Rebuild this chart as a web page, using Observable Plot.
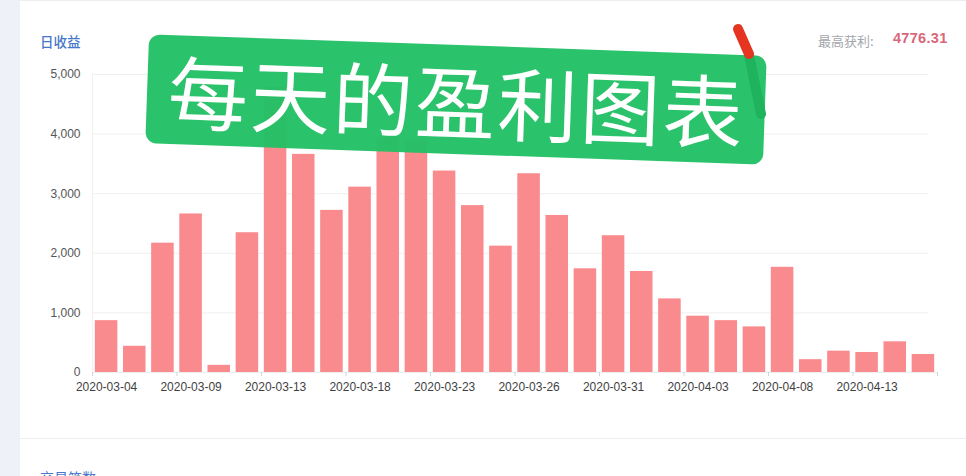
<!DOCTYPE html>
<html>
<head>
<meta charset="utf-8">
<script src="https://cdn.jsdelivr.net/npm/d3@7"></script>
<script src="https://cdn.jsdelivr.net/npm/@observablehq/plot@0.6"></script>
<style>
  html, body { margin: 0; padding: 0; background: #ffffff; }
  #page { position: relative; width: 966px; height: 476px; overflow: hidden; background: #ffffff;
          font-family: "Liberation Sans", "Noto Sans CJK SC", sans-serif; }
  #strip { position: absolute; left: 0; top: 0; width: 20px; height: 476px; background: #eef2f8; }
  #topline { position: absolute; left: 20px; right: 0; top: 0; height: 1px; background: #eceef2; }
  #chart { position: absolute; left: 0; top: 0; }
  #title { position: absolute; left: 40px; top: 31px; font-size: 13.5px; color: #4677c8; font-weight: 500;
           font-family: "Noto Sans CJK SC", sans-serif; }
  #maxlbl { position: absolute; left: 818px; top: 31px; font-size: 13px; color: #a3a6ad;
            font-family: "Noto Sans CJK SC", sans-serif; }
  #maxval { position: absolute; left: 893px; top: 30px; font-size: 14.5px; font-weight: bold; color: #d8677c;
            letter-spacing: 0.3px; }
  #divider { position: absolute; left: 20px; right: 0; top: 438px; height: 1px; background: #eceef1; }
  #sub { position: absolute; left: 40px; top: 467px; font-size: 14px; color: #4677c8;
         font-family: "Noto Sans CJK SC", sans-serif; }
  #banner { position: absolute; left: 147px; top: 45px; width: 618px; height: 109px; border-radius: 11px;
            background: rgba(34, 192, 101, 0.965); transform: rotate(2deg); transform-origin: center;
            color: #ffffff; font-family: "Noto Sans CJK SC", sans-serif; font-weight: 400;
            font-size: 80px; line-height: 106px; letter-spacing: 2.5px; white-space: nowrap;
            box-sizing: border-box; padding-left: 21px; }
  #marker { position: absolute; left: 0; top: 0; pointer-events: none; }
</style>
</head>
<body>
<div id="page">
  <div id="strip"></div>
  <div id="topline"></div>
  <div id="chart"></div>
  <div id="title">日收益</div>
  <div id="maxlbl">最高获利:</div>
  <div id="maxval">4776.31</div>
  <div id="divider"></div>
  <div id="sub">交易笔数</div>
  <div id="banner">每天的盈利图表</div>
  <svg id="marker" width="966" height="476">
    <path d="M749,55 L761,114" stroke="#1fb35d" stroke-width="10" stroke-linecap="round" fill="none"/>
    <path d="M738,29 L749,54" stroke="#e5341f" stroke-width="10" stroke-linecap="round" fill="none"/>
  </svg>
</div>
<script>
const dates = ["2020-03-04","2020-03-05","2020-03-06","2020-03-09","2020-03-10","2020-03-11",
  "2020-03-13","2020-03-16","2020-03-17","2020-03-18","2020-03-19","2020-03-20",
  "2020-03-23","2020-03-24","2020-03-25","2020-03-26","2020-03-27","2020-03-30",
  "2020-03-31","2020-04-01","2020-04-02","2020-04-03","2020-04-06","2020-04-07",
  "2020-04-08","2020-04-09","2020-04-10","2020-04-13","2020-04-14","2020-04-15"];
const profits = [870, 440, 2170, 2660, 120, 2345,
  4776.31, 3660, 2720, 3110, 3950, 3880,
  3380, 2800, 2120, 3335, 2635, 1740,
  2295, 1695, 1235, 945, 870, 765,
  1765, 215, 358, 336, 515, 302];
const yTicks = [0, 1000, 2000, 3000, 4000, 5000];
const xLabels = dates.filter((d, i) => i % 3 === 0);
const lastDate = [dates[dates.length - 1]];

const data = dates.map((d, i) => ({date: d, value: profits[i]}));
const halfStep = (966 - 92 - 29) / dates.length / 2;

const chart = Plot.plot({
  width: 966,
  height: 400,
  marginLeft: 92,
  marginRight: 29,
  marginTop: 74,
  marginBottom: 28,
  style: {fontFamily: "'Liberation Sans', 'Noto Sans CJK SC', sans-serif", fontSize: "12px", color: "#555", background: "transparent"},
  x: {domain: dates, paddingInner: 0.2, paddingOuter: 0.1, round: false, axis: null, label: null},
  y: {domain: [0, 5000], axis: null, label: null},
  marks: [
    Plot.gridY(yTicks.slice(1), {stroke: "#efefef", strokeOpacity: 1, insetRight: 9}),
    Plot.ruleX([dates[0]], {dx: -halfStep, y1: 0, y2: 5000, stroke: "#f1f1f1"}),
    Plot.axisY({ticks: yTicks, tickSize: 0, tickPadding: 12, tickFormat: d3.format(","), fill: "#555", fontSize: 12, label: null}),
    Plot.barY(data, {x: "date", y: "value", fill: "#f98a8d"}),
    Plot.ruleY([0], {stroke: "#eeeeee"}),
    Plot.axisX({ticks: xLabels, tickSize: 0, tickPadding: 10, fill: "#3f3f3f", fontSize: 12, label: null}),
    Plot.axisX({ticks: xLabels, tickSize: 4, tickFormat: () => "", dx: -halfStep, stroke: "#cfd6dc", label: null}),
    Plot.axisX({ticks: lastDate, tickSize: 4, tickFormat: () => "", dx: halfStep, stroke: "#cfd6dc", label: null})
  ]
});
document.getElementById("chart").appendChild(chart);
</script>
</body>
</html>
